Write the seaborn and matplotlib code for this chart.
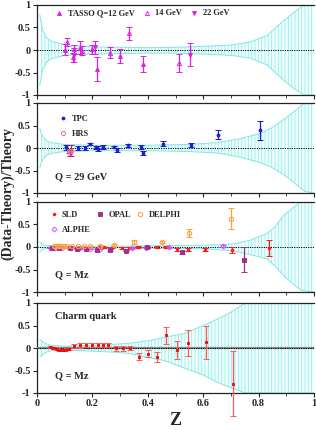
import numpy as np
import matplotlib
matplotlib.use('Agg')
import matplotlib.pyplot as plt
import seaborn as sns
from matplotlib.ticker import MultipleLocator, FormatStrFormatter

# ---- theory uncertainty bands (z, upper, lower) ----
band1_z = [0.01, 0.02, 0.036, 0.05, 0.072, 0.1, 0.15, 0.2, 0.3, 0.4, 0.5, 0.6, 0.7, 0.77, 0.83, 0.89, 0.93, 0.965, 1.0]
band1_up = [0.78, 0.45, 0.26, 0.2, 0.16, 0.12, 0.09, 0.07, 0.06, 0.05, 0.06, 0.08, 0.11, 0.18, 0.32, 0.65, 0.85, 1.0, 1.0]
band1_lo = [-0.78, -0.45, -0.26, -0.2, -0.16, -0.12, -0.1, -0.09, -0.08, -0.07, -0.07, -0.09, -0.12, -0.18, -0.33, -0.67, -0.87, -1.0, -1.0]

band2_z = [0.01, 0.02, 0.04, 0.07, 0.1, 0.2, 0.4, 0.55, 0.65, 0.73, 0.81, 0.85, 0.89, 0.93, 0.965, 1.0]
band2_up = [0.43, 0.25, 0.14, 0.1, 0.08, 0.06, 0.06, 0.08, 0.12, 0.2, 0.33, 0.46, 0.63, 0.82, 1.0, 1.0]
band2_lo = [-0.43, -0.25, -0.14, -0.1, -0.08, -0.06, -0.06, -0.08, -0.11, -0.2, -0.33, -0.44, -0.59, -0.78, -0.96, -1.0]

band3_z = [0.01, 0.02, 0.04, 0.1, 0.3, 0.5, 0.6, 0.65, 0.71, 0.77, 0.83, 0.86, 0.89, 0.92, 0.953, 1.0]
band3_up = [0.11, 0.05, 0.03, 0.02, 0.02, 0.03, 0.04, 0.05, 0.07, 0.15, 0.3, 0.45, 0.7, 0.85, 1.0, 1.0]
band3_lo = [-0.11, -0.05, -0.03, -0.02, -0.02, -0.03, -0.04, -0.06, -0.09, -0.17, -0.26, -0.43, -0.63, -0.8, -0.96, -1.0]

band4_z = [0.01, 0.03, 0.05, 0.1, 0.2, 0.3, 0.34, 0.41, 0.46, 0.53, 0.6, 0.65, 0.69, 0.751, 1.0]
band4_up = [0.19, 0.1, 0.06, 0.04, 0.06, 0.09, 0.11, 0.17, 0.24, 0.32, 0.5, 0.64, 0.76, 1.0, 1.0]
band4_lo = [-0.2, -0.1, -0.06, -0.05, -0.07, -0.1, -0.13, -0.22, -0.28, -0.44, -0.6, -0.76, -0.86, -1.0, -1.0]

# ---- panel 1: TASSO ----
t12_z = [0.100, 0.129, 0.157, 0.217, 0.301, 0.383]
t12_y = [0.01, -0.16, 0.05, -0.42, -0.13, -0.31]
t12_e = [0.12, 0.10, 0.14, 0.27, 0.16, 0.17]
t14_z = [0.108, 0.133, 0.163, 0.200, 0.262, 0.332, 0.513]
t14_y = [0.17, 0.02, -0.02, 0.02, -0.06, 0.37, -0.29]
t14_e = [0.09, 0.10, 0.10, 0.10, 0.12, 0.15, 0.20]
t22_z = [0.135, 0.211, 0.551]
t22_y = [-0.11, 0.06, -0.10]
t22_e = [0.15, 0.14, 0.25]

# ---- panel 2: Q = 29 GeV ----
tpc_z = [0.105, 0.147, 0.172, 0.193, 0.213, 0.221, 0.238, 0.277, 0.290, 0.328, 0.377, 0.382, 0.455, 0.555, 0.655, 0.806]
tpc_y = [0.015, 0.0, 0.0, 0.09, 0.015, -0.015, 0.02, 0.02, -0.04, 0.06, 0.02, -0.11, 0.10, 0.07, 0.29, 0.39]
tpc_e = [0.05, 0.05, 0.05, 0.02, 0.04, 0.05, 0.04, 0.03, 0.05, 0.03, 0.04, 0.05, 0.05, 0.05, 0.10, 0.21]
hrs_z = [0.115, 0.120, 0.124]
hrs_y = [-0.07, -0.11, -0.06]
hrs_e = [0.05, 0.06, 0.12]

# ---- panel 3: Q = Mz ----
sld_z = [0.223, 0.241, 0.271, 0.308, 0.332, 0.364, 0.398, 0.432, 0.464, 0.504, 0.546, 0.607, 0.703, 0.838]
sld_y = [0.0, -0.01, -0.02, -0.02, -0.02, 0.0, -0.01, 0.0, 0.0, -0.05, -0.06, -0.06, -0.07, -0.03]
sld_e = [0.01, 0.01, 0.01, 0.02, 0.02, 0.02, 0.02, 0.03, 0.03, 0.03, 0.04, 0.04, 0.06, 0.18]
opal_z = [0.054, 0.078, 0.120, 0.145, 0.178, 0.217, 0.265, 0.323, 0.396, 0.522, 0.746]
opal_y = [-0.02, -0.02, -0.03, -0.04, -0.04, -0.07, -0.07, -0.08, 0.0, -0.12, -0.28]
opal_e = [0.01, 0.01, 0.01, 0.01, 0.01, 0.02, 0.02, 0.02, 0.03, 0.04, 0.27]
delphi_z = [0.060, 0.066, 0.072, 0.078, 0.084, 0.090, 0.096, 0.108, 0.127, 0.147, 0.169, 0.193, 0.229, 0.277, 0.350, 0.452, 0.549, 0.700]
delphi_y = [0.02, 0.02, 0.02, 0.02, 0.02, 0.02, 0.02, 0.02, 0.02, 0.02, 0.02, 0.02, 0.02, 0.04, 0.11, 0.11, 0.32, 0.63]
delphi_e = [0.01, 0.01, 0.01, 0.01, 0.01, 0.01, 0.01, 0.01, 0.01, 0.01, 0.01, 0.01, 0.02, 0.02, 0.04, 0.02, 0.09, 0.24]
alphe_z = [0.048, 0.066, 0.090, 0.124, 0.157, 0.190, 0.229, 0.344, 0.392, 0.476, 0.673]
alphe_y = [-0.02, -0.02, -0.02, -0.02, -0.03, -0.04, -0.04, -0.03, -0.02, -0.01, 0.02]
alphe_e = [0.01, 0.01, 0.01, 0.01, 0.01, 0.01, 0.01, 0.01, 0.01, 0.01, 0.02]

# ---- panel 4: charm quark ----
charm_z = [0.048, 0.054, 0.060, 0.066, 0.072, 0.078, 0.084, 0.090, 0.096, 0.102, 0.108, 0.114,
           0.133, 0.157, 0.178, 0.198, 0.219, 0.238, 0.258, 0.287, 0.311, 0.335,
           0.368, 0.400, 0.432, 0.464, 0.504, 0.546, 0.609, 0.706]
charm_y = [0.02, 0.01, 0.0, -0.01, -0.03, -0.04, -0.04, -0.04, -0.04, -0.04, -0.03, -0.03,
           0.04, 0.06, 0.07, 0.07, 0.07, 0.07, 0.07, -0.01, -0.01, 0.0,
           -0.19, -0.13, -0.20, 0.28, -0.05, 0.11, 0.13, -0.79]
charm_e = [0.02, 0.02, 0.02, 0.02, 0.02, 0.02, 0.02, 0.02, 0.02, 0.02, 0.02, 0.02,
           0.04, 0.05, 0.05, 0.05, 0.05, 0.05, 0.05, 0.05, 0.05, 0.05,
           0.07, 0.08, 0.12, 0.18, 0.20, 0.29, 0.37, 0.72]

sns.set_style('ticks')
plt.rcParams['font.family'] = ['Liberation Serif', 'DejaVu Serif']
plt.rcParams['font.weight'] = 'bold'
plt.rcParams['axes.unicode_minus'] = False
plt.rcParams['hatch.linewidth'] = 0.6

fig = plt.figure(figsize=(3.16, 4.30), dpi=100)
left, width, height = 37 / 316, 277 / 316, 90 / 430
bottoms = [1 - 95 / 430, 1 - 193 / 430, 1 - 292 / 430, 1 - 393 / 430]
axes = [fig.add_axes([left, b, width, height]) for b in bottoms]

bands = [(band1_z, band1_up, band1_lo), (band2_z, band2_up, band2_lo),
         (band3_z, band3_up, band3_lo), (band4_z, band4_up, band4_lo)]

for i, (ax, (bz, bu, bl)) in enumerate(zip(axes, bands)):
    ax.fill_between(bz, bl, bu, facecolor='#f0ffff', edgecolor='#96eaea',
                    hatch='|||||', linewidth=0, zorder=1)
    sns.lineplot(x=bz, y=bu, ax=ax, color='#86e4e4', lw=0.7, zorder=2)
    sns.lineplot(x=bz, y=bl, ax=ax, color='#86e4e4', lw=0.7, zorder=2)
    if i == 3:
        ax.axhline(0, color='#888888', lw=1.6, zorder=3)
    ax.axhline(0, color='black', lw=0.7, ls=(0, (1.2, 1.2)), zorder=3)
    ax.set_xlim(0, 1)
    ax.set_ylim(-1, 1)
    ax.xaxis.set_major_locator(MultipleLocator(0.2))
    ax.xaxis.set_minor_locator(MultipleLocator(0.1))
    ax.yaxis.set_major_locator(MultipleLocator(0.5))
    ax.yaxis.set_major_formatter(FormatStrFormatter('%g'))
    ax.xaxis.set_major_formatter(FormatStrFormatter('%g'))
    ax.tick_params(axis='both', which='major', direction='out', length=3, width=0.8,
                   labelsize=7.5, pad=1.5)
    ax.tick_params(axis='x', which='minor', direction='out', length=2, width=0.6)
    for lab in ax.get_yticklabels():
        lab.set_fontweight('bold')
    for s in ['left', 'bottom', 'top']:
        ax.spines[s].set_linewidth(0.9)
        ax.spines[s].set_color('#222222')
    ax.spines['right'].set_visible(False)
    ax.set_xlabel('')
    ax.set_ylabel('')
    if i < 3:
        ax.tick_params(axis='x', labelbottom=False)


def eb(ax, z, y, e, color, marker, ms, mfc=None, ecolor=None, clip=True):
    c = ax.errorbar(z, y, yerr=e, fmt=marker, ms=ms, color=color, mfc=mfc if mfc else color,
                    mec=color, mew=0.7, ecolor=ecolor if ecolor else color, elinewidth=0.9,
                    capsize=2, capthick=0.9, zorder=5, clip_on=clip)
    return c[0]


leg_kw = dict(loc='upper left', frameon=False, fontsize=6, handlelength=1.0,
              handletextpad=0.5, borderpad=0, borderaxespad=0)

ax = axes[0]
mag = '#e020e0'
h1 = eb(ax, t12_z, t12_y, t12_e, mag, '^', 2.8)
h2 = eb(ax, t14_z, t14_y, t14_e, mag, '^', 3.0, mfc='none')
h3 = eb(ax, t22_z, t22_y, t22_e, mag, 'v', 2.8)
ax.legend([h1, h2, h3], ['TASSO Q=12 GeV', '14 GeV', '22 GeV'],
          bbox_to_anchor=(0.065, 0.95), ncol=3, columnspacing=1.0, **leg_kw)

ax = axes[1]
h1 = eb(ax, tpc_z, tpc_y, tpc_e, '#1a1ad0', 'o', 2.0)
h2 = eb(ax, hrs_z, hrs_y, hrs_e, '#e070a8', 'o', 3.0, mfc='none', ecolor='#c01860')
ax.legend([h1, h2], ['TPC', 'HRS'], bbox_to_anchor=(0.08, 0.87), ncol=1,
          labelspacing=0.85, **leg_kw)
ax.text(0.065, 0.18, 'Q = 29 GeV', transform=ax.transAxes, fontsize=7.5,
        fontweight='bold', va='center', ha='left')

ax = axes[2]
h1 = eb(ax, sld_z, sld_y, sld_e, '#ff1a1a', 'o', 1.8)
h2 = eb(ax, alphe_z, alphe_y, alphe_e, '#cc55ff', 'D', 2.5, mfc='none')
h3 = eb(ax, opal_z, opal_y, opal_e, '#a03090', 's', 2.8)
h4 = eb(ax, delphi_z, delphi_y, delphi_e, '#ffa040', 'o', 3.2, mfc='none')
ax.legend([h1, h2, h3, h4], ['SLD', 'ALPHE', 'OPAL', 'DELPHI'],
          bbox_to_anchor=(0.045, 0.9), ncol=3, labelspacing=0.85,
          columnspacing=0.6, **leg_kw)
ax.text(0.065, 0.19, 'Q = Mz', transform=ax.transAxes, fontsize=7.5,
        fontweight='bold', va='center', ha='left')

ax = axes[3]
eb(ax, charm_z, charm_y, charm_e, '#ee1010', 's', 2.0, ecolor='#ff5a5a', clip=False)
ax.text(0.065, 0.85, 'Charm quark', transform=ax.transAxes, fontsize=7.5,
        fontweight='bold', va='center', ha='left')
ax.text(0.065, 0.19, 'Q = Mz', transform=ax.transAxes, fontsize=7.5,
        fontweight='bold', va='center', ha='left')
for lab in ax.get_xticklabels():
    lab.set_fontweight('bold')

fig.text(0.024, 0.549, '(Data-Theory)/Theory', rotation=90, fontsize=10,
         fontweight='bold', ha='center', va='center')
fig.text(0.553, 0.021, 'Z', fontsize=13, fontweight='bold', ha='center', va='center')

fig.savefig('out.png', dpi=100)
